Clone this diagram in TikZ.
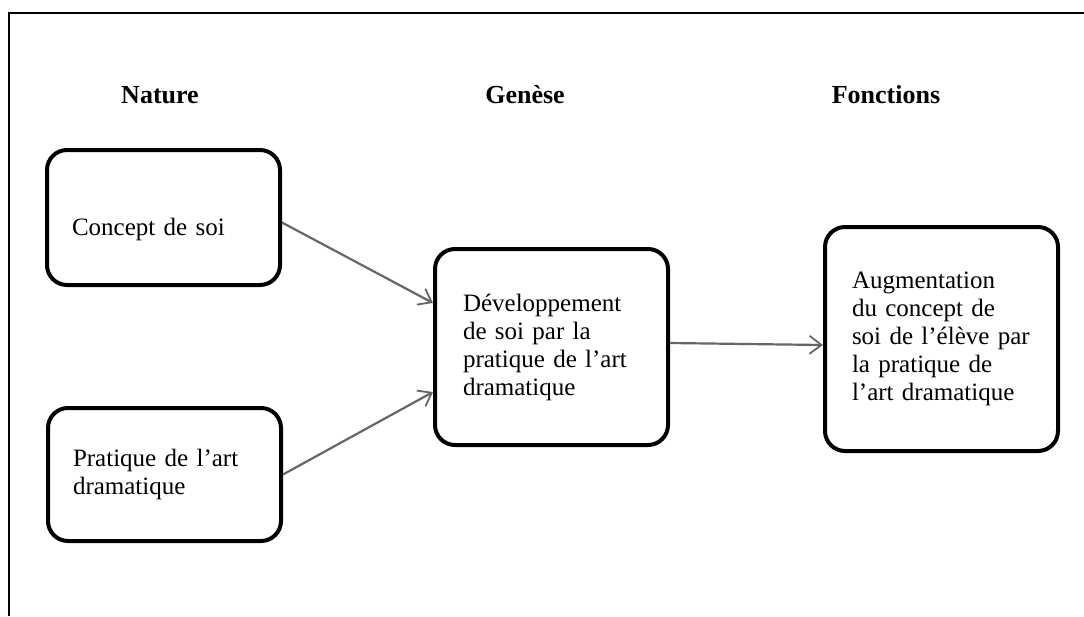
\documentclass[tikz,border=0pt]{standalone}
\usepackage{fontspec}
\setmainfont{Liberation Serif}
\usetikzlibrary{arrows.meta}
\tikzset{
  box/.style={draw=black, line width=4pt, rounded corners=20pt, fill=white,
    inner xsep=0pt, inner ysep=0pt, align=left,
    font=\fontsize{25}{28}\selectfont, minimum width=233pt},
  header/.style={font=\fontsize{26}{28}\selectfont\bfseries, inner sep=0pt},
  arr/.style={draw=black!60, line width=2.2pt, -{Straight Barb[length=12pt,width=18pt,line width=1.8pt]}},
  frame/.style={draw=black, line width=2pt}
}
\begin{document}
\begin{tikzpicture}[x=1pt,y=-1pt]
\useasboundingbox (0,0) rectangle (1084,616);
\coordinate (fa) at (1084,13);
\coordinate (fb) at (9,13);
\coordinate (fc) at (9,616);
\draw[frame] (fa) -- (fb) -- (fc);

\node[header] (h1) at (160,95) {Nature};
\node[header] (h2) at (525,95) {Genèse};
\node[header] (h3) at (886,95) {Fonctions};

\node[box, minimum height=135pt, text width=183pt] (b1) at (163.5,217.5)
  {Concept de soi\rule{0pt}{41pt}};
\node[box, minimum height=133pt, text width=183pt] (b2) at (164.5,474.5)
  {Pratique de l'art\\dramatique};
\node[box, minimum height=196pt, text width=177pt] (b3) at (551.5,347)
  {Développement\\de soi par la\\pratique de l'art\\dramatique};
\node[box, minimum height=224pt, text width=179pt] (b4) at (941.5,339)
  {Augmentation\\du concept de\\soi de l'élève par\\la pratique de\\l'art dramatique};

\draw[arr] ([yshift=-5pt]b1.east) -- ([yshift=44pt]b3.west);
\draw[arr] ([yshift=0pt]b2.east) -- ([yshift=-45pt]b3.west);
\draw[arr] ([yshift=4pt]b3.east) -- ([yshift=-6pt]b4.west);
\end{tikzpicture}
\end{document}
